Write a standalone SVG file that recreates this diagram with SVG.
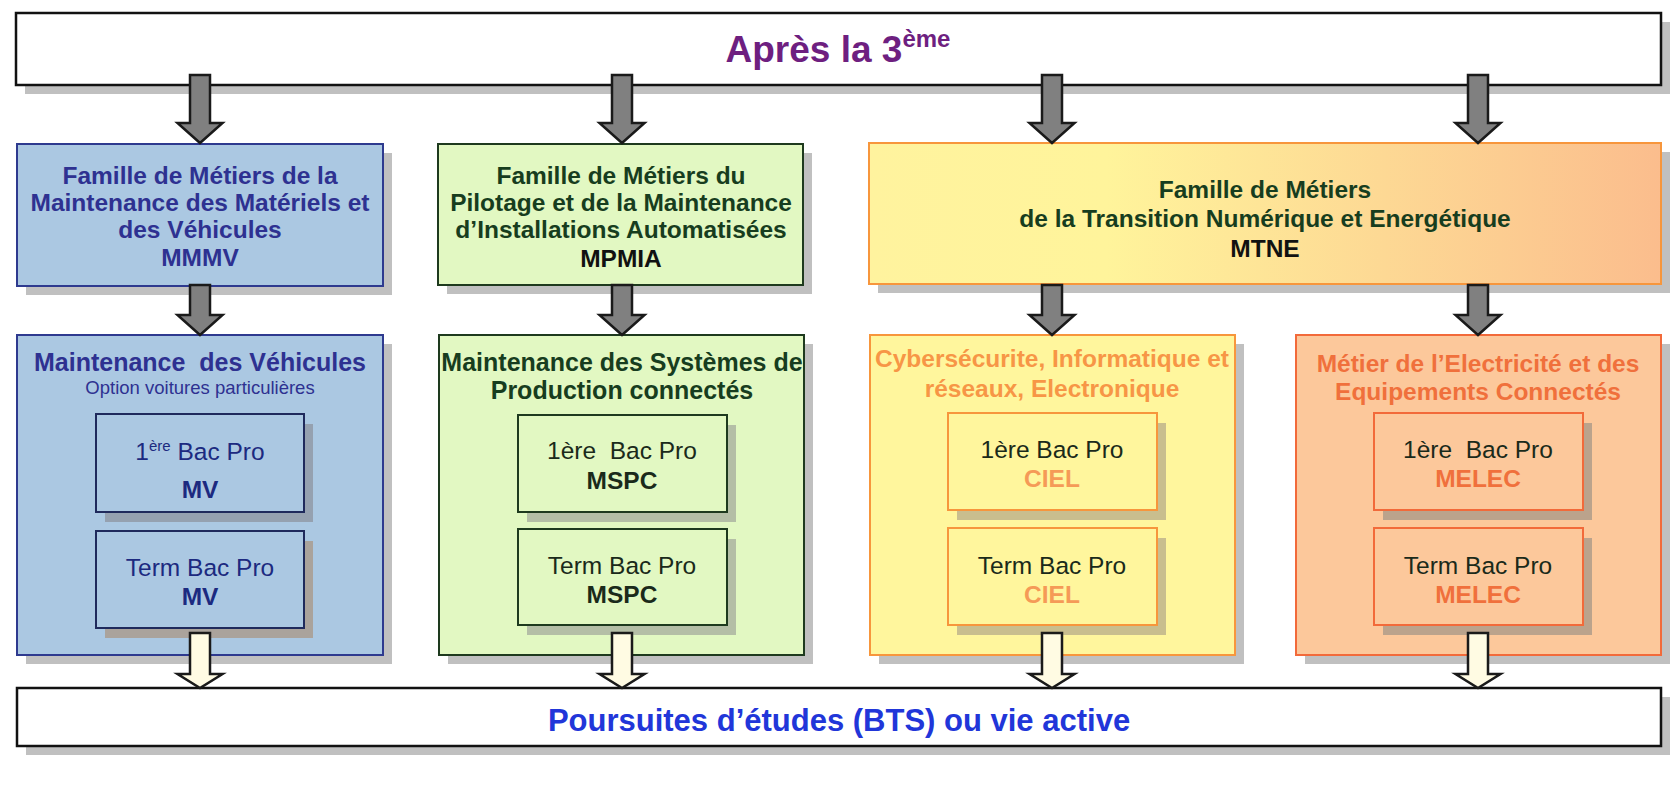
<svg xmlns="http://www.w3.org/2000/svg" width="1678" height="789" viewBox="0 0 1678 789">
<style>
.t{font-family:"Liberation Sans",Arial,Helvetica,sans-serif;text-anchor:middle}
.b{font-weight:bold}
.h1{font-size:24.5px}
.h2{font-size:25px}
.in{font-size:24.5px}
.sh{fill:#c0c0c0}
.ga{fill:#808080;stroke:#1a1a1a;stroke-width:2.5;stroke-linejoin:miter}
.wa{fill:#fffbe3;stroke:#1a1a1a;stroke-width:2.5;stroke-linejoin:miter}
.white{fill:#ffffff;stroke:#111111;stroke-width:2.5}
.blue{fill:#abc8e2;stroke:#2e3a8f;stroke-width:2}
.blueIn{fill:#abc8e2;stroke:#1f2a5c;stroke-width:2}
.green{fill:#e2f8c2;stroke:#1e3a1e;stroke-width:2}
.yellow{fill:#fff69d;stroke:#f7963c;stroke-width:2}
.orange{fill:#fcc89b;stroke:#f26a3a;stroke-width:2}
.cBlue{fill:#2e3191}
.cNavy{fill:#1c2a80}
.cGreen{fill:#173d1e}
.cDark{fill:#1a2a1a}
.cOr{fill:#f79646}
.cOr2{fill:#f0703c}
</style>
<defs>
<linearGradient id="gMTNE" x1="0" y1="0" x2="1" y2="0">
<stop offset="0" stop-color="#fff39e"/>
<stop offset="0.3" stop-color="#fff49b"/>
<stop offset="1" stop-color="#fbbd8d"/>
</linearGradient>
<polygon id="arrTop" points="-10,0 10,0 10,48 22.5,48 0,68 -22.5,48 -10,48"/>
<polygon id="arrMid" points="-10,0 10,0 10,30 22.5,30 0,50 -22.5,30 -10,30"/>
<polygon id="arrBot" points="-10,0 10,0 10,41 22.5,41 0,55 -22.5,41 -10,41"/>
</defs>
<rect x="0" y="0" width="1678" height="789" fill="#ffffff"/>

<g id="top">
<rect class="sh" x="25" y="22" width="1645" height="72"/>
<rect class="white" x="16" y="13" width="1645" height="72"/>
<text class="t b" x="838" y="62" font-size="37" fill="#6e1f80">Après la 3<tspan font-size="24" dy="-15">ème</tspan></text>
</g>

<g id="mmmv">
<rect class="sh" x="26" y="153" width="366" height="142"/>
<rect class="blue" x="17" y="144" width="366" height="142"/>
<text class="t b h1 cBlue" x="200" y="184">Famille de Métiers de la</text>
<text class="t b h1 cBlue" x="200" y="211">Maintenance des Matériels et</text>
<text class="t b h1 cBlue" x="200" y="238">des Véhicules</text>
<text class="t b h1 cBlue" x="200" y="266">MMMV</text>
</g>

<g id="mpmia">
<rect class="sh" x="447" y="153" width="365" height="141"/>
<rect class="green" x="438" y="144" width="365" height="141"/>
<text class="t b h1 cGreen" x="621" y="184">Famille de Métiers du</text>
<text class="t b h1 cGreen" x="621" y="211">Pilotage et de la Maintenance</text>
<text class="t b h1 cGreen" x="621" y="238">d’Installations Automatisées</text>
<text class="t b h1" x="621" y="267" fill="#111111">MPMIA</text>
</g>

<g id="mtne">
<rect class="sh" x="878" y="152" width="792" height="141"/>
<rect x="869" y="143" width="792" height="141" fill="url(#gMTNE)" stroke="#f7963c" stroke-width="2"/>
<text class="t b h1 cGreen" x="1265" y="198">Famille de Métiers</text>
<text class="t b h1 cGreen" x="1265" y="227">de la Transition Numérique et Energétique</text>
<text class="t b h1" x="1265" y="257" fill="#111111">MTNE</text>
</g>

<g id="mv">
<rect class="sh" x="26" y="344" width="366" height="320"/>
<rect class="blue" x="17" y="335" width="366" height="320"/>
<text class="t b h2 cBlue" x="200" y="371">Maintenance&#160; des Véhicules</text>
<text class="t cBlue" x="200" y="394" font-size="18.5">Option voitures particulières</text>
<rect x="105" y="424" width="208" height="98" fill="#95a1b0"/>
<rect class="blueIn" x="96" y="414" width="208" height="98"/>
<text class="t in cNavy" x="200" y="460">1<tspan font-size="15" dy="-9">ère</tspan><tspan dy="9"> Bac Pro</tspan></text>
<text class="t b in cNavy" x="200" y="498">MV</text>
<rect x="105" y="541" width="208" height="97" fill="#aaa39c"/>
<rect class="blueIn" x="96" y="531" width="208" height="97"/>
<text class="t in cNavy" x="200" y="576">Term Bac Pro</text>
<text class="t b in cNavy" x="200" y="605">MV</text>
</g>

<g id="mspc">
<rect class="sh" x="448" y="344" width="365" height="320"/>
<rect class="green" x="439" y="335" width="365" height="320"/>
<text class="t b h2 cGreen" x="622" y="371">Maintenance des Systèmes de</text>
<text class="t b h2 cGreen" x="622" y="399">Production connectés</text>
<rect x="527" y="425" width="209" height="97" fill="#b4bea6"/>
<rect class="green" x="518" y="415" width="209" height="97"/>
<text class="t in cDark" x="622" y="459">1ère&#160; Bac Pro</text>
<text class="t b in cDark" x="622" y="489">MSPC</text>
<rect x="527" y="539" width="209" height="96" fill="#b4bea6"/>
<rect class="green" x="518" y="529" width="209" height="96"/>
<text class="t in cDark" x="622" y="574">Term Bac Pro</text>
<text class="t b in cDark" x="622" y="603">MSPC</text>
</g>

<g id="ciel">
<rect class="sh" x="879" y="344" width="365" height="320"/>
<rect class="yellow" x="870" y="335" width="365" height="320"/>
<text class="t b h1 cOr" x="1052" y="367">Cybersécurite, Informatique et</text>
<text class="t b h1 cOr" x="1052" y="397">réseaux, Electronique</text>
<rect x="957" y="423" width="209" height="97" fill="#c9be8e"/>
<rect class="yellow" x="948" y="413" width="209" height="97"/>
<text class="t in cDark" x="1052" y="458">1ère Bac Pro</text>
<text class="t b in" x="1052" y="487" fill="#f59a57">CIEL</text>
<rect x="957" y="538" width="209" height="97" fill="#c9be8e"/>
<rect class="yellow" x="948" y="528" width="209" height="97"/>
<text class="t in cDark" x="1052" y="574">Term Bac Pro</text>
<text class="t b in" x="1052" y="603" fill="#f59a57">CIEL</text>
</g>

<g id="melec">
<rect class="sh" x="1305" y="344" width="365" height="320"/>
<rect class="orange" x="1296" y="335" width="365" height="320"/>
<text class="t b h1 cOr2" x="1478" y="372">Métier de l’Electricité et des</text>
<text class="t b h1 cOr2" x="1478" y="400">Equipements Connectés</text>
<rect x="1383" y="423" width="209" height="97" fill="#bba38c"/>
<rect class="orange" x="1374" y="413" width="209" height="97"/>
<text class="t in cDark" x="1478" y="458">1ère&#160; Bac Pro</text>
<text class="t b in cOr2" x="1478" y="487">MELEC</text>
<rect x="1383" y="538" width="209" height="97" fill="#bba38c"/>
<rect class="orange" x="1374" y="528" width="209" height="97"/>
<text class="t in cDark" x="1478" y="574">Term Bac Pro</text>
<text class="t b in cOr2" x="1478" y="603">MELEC</text>
</g>

<g id="bottom">
<rect class="sh" x="26" y="697" width="1644" height="58"/>
<rect class="white" x="17" y="688" width="1644" height="58"/>
<text class="t b" x="839" y="731" font-size="31" fill="#2136d9">Poursuites d’études (BTS) ou vie active</text>
</g>

<g id="connectors">
<use href="#arrTop" class="ga" transform="translate(200,75)"/>
<use href="#arrTop" class="ga" transform="translate(622,75)"/>
<use href="#arrTop" class="ga" transform="translate(1052,75)"/>
<use href="#arrTop" class="ga" transform="translate(1478,75)"/>
<use href="#arrMid" class="ga" transform="translate(200,285)"/>
<use href="#arrMid" class="ga" transform="translate(622,285)"/>
<use href="#arrMid" class="ga" transform="translate(1052,285)"/>
<use href="#arrMid" class="ga" transform="translate(1478,285)"/>
<use href="#arrBot" class="wa" transform="translate(200,633)"/>
<use href="#arrBot" class="wa" transform="translate(622,633)"/>
<use href="#arrBot" class="wa" transform="translate(1052,633)"/>
<use href="#arrBot" class="wa" transform="translate(1478,633)"/>
</g>
</svg>
